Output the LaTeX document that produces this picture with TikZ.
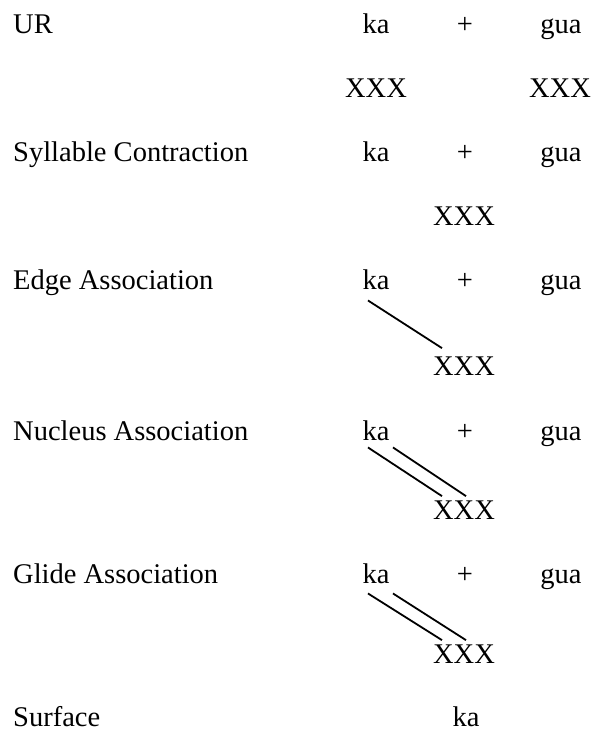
\documentclass[tikz,border=0pt]{standalone}
\usepackage{fontspec}
\setmainfont{Liberation Serif}

\begin{document}
\begin{tikzpicture}[x=1pt,y=-1pt,
    txt/.style={anchor=base,inner sep=0pt,font=\fontsize{28.5}{34}\selectfont},
    lbl/.style={txt,anchor=base west},
    assoc/.style={line width=1.8pt}]
    \useasboundingbox (0,0) rectangle (594,731);

    \node[lbl] (urL) at (13,33) {UR};
    \node[txt] (urKa) at (376,33) {ka};
    \node[txt] (urPl) at (465,33) {+};
    \node[txt] (urGua) at (561,33) {gua};
    \node[txt] (urXa) at (376,97) {XXX};
    \node[txt] (urXb) at (560,97) {XXX};

    \node[lbl] (scL) at (13,161) {Syllable Contraction};
    \node[txt] (scKa) at (376,161) {ka};
    \node[txt] (scPl) at (465,161) {+};
    \node[txt] (scGua) at (561,161) {gua};
    \node[txt] (scX) at (464,225) {XXX};

    \node[lbl] (eaL) at (13,289) {Edge Association};
    \node[txt] (eaKa) at (376,289) {ka};
    \node[txt] (eaPl) at (465,289) {+};
    \node[txt] (eaGua) at (561,289) {gua};
    \node[txt] (eaX) at (464,375) {XXX};
    \draw[assoc] ([xshift=-8pt,yshift=-11pt]eaKa.south) -- ([xshift=-22pt,yshift=8pt]eaX.north);

    \node[lbl] (naL) at (13,440) {Nucleus Association};
    \node[txt] (naKa) at (376,440) {ka};
    \node[txt] (naPl) at (465,440) {+};
    \node[txt] (naGua) at (561,440) {gua};
    \node[txt] (naX) at (464,519) {XXX};
    \draw[assoc] ([xshift=-8pt,yshift=-7pt]naKa.south) -- ([xshift=-22pt,yshift=4pt]naX.north);
    \draw[assoc] ([xshift=17pt,yshift=-7pt]naKa.south) -- ([xshift=2pt,yshift=4pt]naX.north);

    \node[lbl] (gaL) at (13,583) {Glide Association};
    \node[txt] (gaKa) at (376,583) {ka};
    \node[txt] (gaPl) at (465,583) {+};
    \node[txt] (gaGua) at (561,583) {gua};
    \node[txt] (gaX) at (464,663) {XXX};
    \draw[assoc] ([xshift=-8pt,yshift=-10pt]gaKa.south) -- ([xshift=-22pt,yshift=4pt]gaX.north);
    \draw[assoc] ([xshift=17pt,yshift=-10pt]gaKa.south) -- ([xshift=2pt,yshift=4pt]gaX.north);

    \node[lbl] (sfL) at (13,726) {Surface};
    \node[txt] (sfKa) at (466,726) {ka};
\end{tikzpicture}
\end{document}
